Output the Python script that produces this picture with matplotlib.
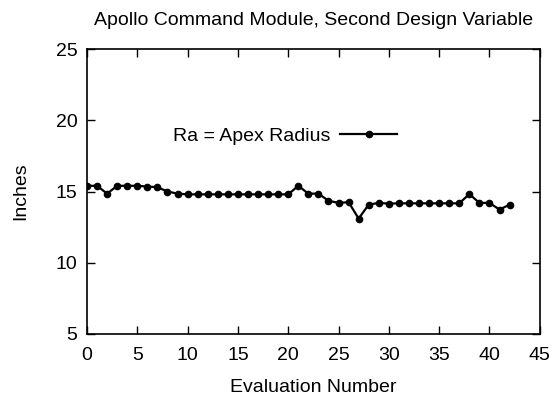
import matplotlib
matplotlib.use("Agg")
import matplotlib.pyplot as plt

plt.rcParams['font.family'] = ['Liberation Sans', 'DejaVu Sans']

# evaluation number vs apex radius (inches)
evals = list(range(43))
radius = [15.4, 15.4, 14.85, 15.4, 15.4, 15.4, 15.35, 15.3, 15.0, 14.85,
          14.8, 14.8, 14.8, 14.8, 14.8, 14.8, 14.8, 14.8, 14.8, 14.8,
          14.8, 15.4, 14.85, 14.85, 14.35, 14.2, 14.25, 13.1, 14.08, 14.2,
          14.15, 14.17, 14.17, 14.17, 14.17, 14.17, 14.17, 14.17, 14.82, 14.2,
          14.2, 13.73, 14.08]

xticks = list(range(0, 46, 5))
yticks = [5, 10, 15, 20, 25]

fs = 14

fig = plt.figure(figsize=(5.59, 4.0), dpi=100)
ax = fig.add_axes([0.1556, 0.165, 0.810, 0.7125])

ax.plot(evals, radius, color='black', lw=1.6, marker='o', ms=4.5,
        label='Ra = Apex Radius')

ax.set_xlim(0, 45)
ax.set_ylim(5, 25)
ax.set_xticks(xticks)
ax.set_yticks(yticks)
ax.tick_params(direction='in', top=True, right=True, labelsize=fs,
               length=6, width=1, pad=7)
ax.tick_params(axis='x', pad=9)
for s in ax.spines.values():
    s.set_linewidth(1.2)

ax.set_title('Apollo Command Module, Second Design Variable', fontsize=fs, pad=17)
ax.set_xlabel('Evaluation Number', fontsize=fs, labelpad=11)
ax.set_ylabel('Inches', fontsize=fs, labelpad=19)

ax.legend(loc='center right', bbox_to_anchor=(0.723, 0.693), frameon=False,
          markerfirst=False, handlelength=2.9, handletextpad=0.5, fontsize=fs)

fig.savefig('out.png', dpi=100)
